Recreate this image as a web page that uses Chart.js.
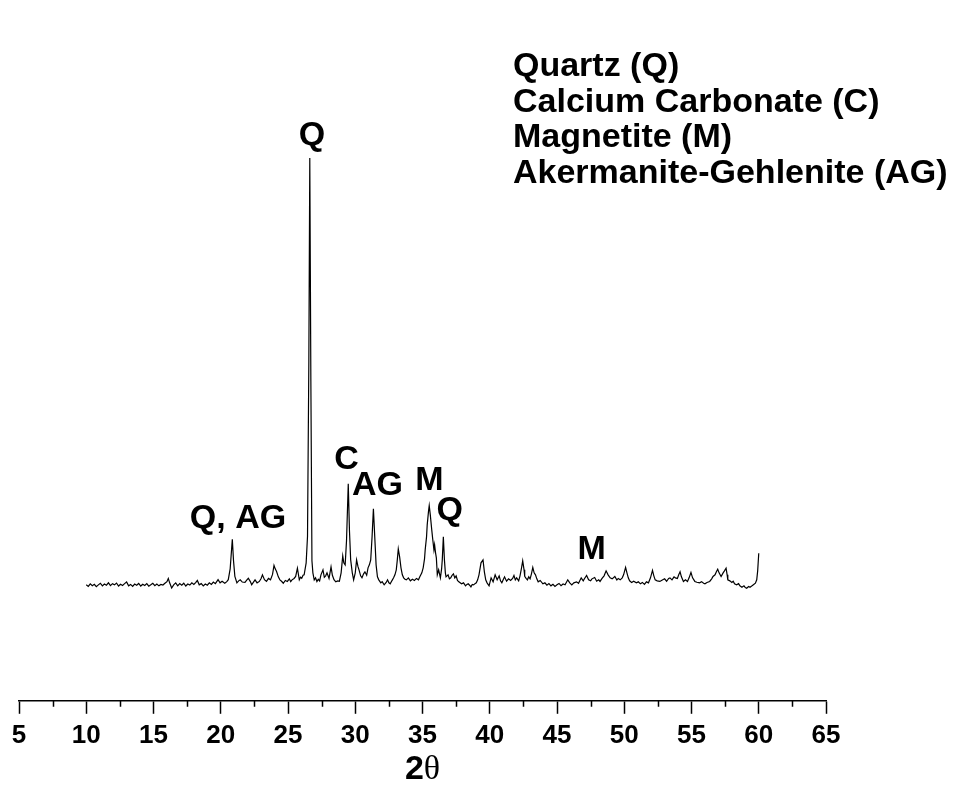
<!DOCTYPE html>
<html>
<head>
<meta charset="utf-8">
<script src="https://cdn.jsdelivr.net/npm/chart.js@4.4.0/dist/chart.umd.min.js"></script>
<style>
  html, body { margin: 0; padding: 0; background: #fff; }
  #wrap { width: 957px; height: 806px; }
</style>
</head>
<body>
<div id="wrap"><canvas id="xrd"></canvas></div>
<script>
'use strict';

// Scan: 2-theta (deg) and intensity (counts)
const twoTheta = [
  10.0, 10.15, 10.3, 10.45, 10.6, 10.75, 10.9, 11.05, 11.2, 11.35, 11.5, 11.65, 11.8, 11.95,
  12.1, 12.25, 12.4, 12.55, 12.7, 12.85, 13.0, 13.15, 13.3, 13.45, 13.6, 13.75, 13.9, 14.05,
  14.2, 14.35, 14.5, 14.65, 14.8, 14.95, 15.1, 15.25, 15.4, 15.55, 15.7, 15.85, 16.0, 16.1,
  16.2, 16.35, 16.5, 16.65, 16.8, 16.95, 17.1, 17.25, 17.4, 17.55, 17.7, 17.85, 18.0, 18.15,
  18.26, 18.4, 18.55, 18.7, 18.85, 19.0, 19.15, 19.3, 19.45, 19.6, 19.8, 19.95, 20.1, 20.3,
  20.45, 20.56, 20.7, 20.86, 20.95, 21.05, 21.2, 21.33, 21.45, 21.6, 21.8, 21.93, 22.05, 22.2,
  22.3, 22.42, 22.55, 22.7, 22.87, 23.0, 23.1, 23.25, 23.4, 23.55, 23.7, 23.85, 23.96, 24.05,
  24.15, 24.28, 24.4, 24.52, 24.65, 24.8, 24.95, 25.1, 25.2, 25.3, 25.45, 25.57, 25.7, 25.84,
  25.93, 26.02, 26.12, 26.2, 26.35, 26.45, 26.55, 26.62, 26.7, 26.78, 26.85, 26.95, 27.05, 27.15,
  27.25, 27.35, 27.45, 27.6, 27.7, 27.8, 27.9, 28.05, 28.2, 28.3, 28.42, 28.55, 28.7, 28.82,
  28.95, 29.07, 29.15, 29.25, 29.35, 29.48, 29.57, 29.66, 29.78, 29.88, 30.0, 30.1, 30.2, 30.28,
  30.4, 30.5, 30.62, 30.72, 30.85, 30.95, 31.05, 31.15, 31.25, 31.35, 31.45, 31.55, 31.65, 31.75,
  31.9, 32.0, 32.15, 32.3, 32.4, 32.5, 32.6, 32.72, 32.85, 32.95, 33.05, 33.12, 33.2, 33.3,
  33.4, 33.5, 33.6, 33.7, 33.8, 33.95, 34.1, 34.25, 34.4, 34.55, 34.7, 34.8, 34.95, 35.05,
  35.15, 35.2, 35.3, 35.35, 35.45, 35.5, 35.58, 35.68, 35.75, 35.85, 35.9, 35.97, 36.03, 36.1,
  36.2, 36.33, 36.42, 36.47, 36.55, 36.63, 36.7, 36.75, 36.9, 37.0, 37.1, 37.2, 37.3, 37.4,
  37.5, 37.6, 37.7, 37.8, 37.9, 38.05, 38.2, 38.3, 38.4, 38.5, 38.6, 38.7, 38.8, 38.9,
  39.0, 39.1, 39.2, 39.35, 39.5, 39.6, 39.7, 39.8, 39.95, 40.1, 40.25, 40.4, 40.55, 40.7,
  40.8, 40.9, 41.0, 41.1, 41.25, 41.4, 41.55, 41.7, 41.8, 41.9, 42.0, 42.15, 42.25, 42.35,
  42.45, 42.55, 42.6, 42.7, 42.8, 42.9, 43.0, 43.1, 43.2, 43.3, 43.4, 43.5, 43.6, 43.75,
  43.95, 44.1, 44.25, 44.4, 44.55, 44.7, 44.85, 45.0, 45.15, 45.3, 45.45, 45.6, 45.8, 45.95,
  46.1, 46.25, 46.45, 46.6, 46.8, 46.95, 47.05, 47.2, 47.35, 47.5, 47.6, 47.8, 47.95, 48.1,
  48.2, 48.35, 48.5, 48.65, 48.8, 48.95, 49.1, 49.3, 49.45, 49.55, 49.7, 49.85, 49.95, 50.1,
  50.2, 50.3, 50.4, 50.55, 50.7, 50.9, 51.05, 51.2, 51.35, 51.5, 51.65, 51.8, 51.95, 52.1,
  52.2, 52.3, 52.45, 52.65, 52.8, 53.0, 53.15, 53.3, 53.4, 53.55, 53.7, 53.8, 53.95, 54.05,
  54.15, 54.25, 54.4, 54.55, 54.7, 54.82, 54.96, 55.08, 55.25, 55.4, 55.6, 55.75, 55.9, 56.0,
  56.15, 56.35, 56.5, 56.6, 56.75, 56.85, 56.95, 57.05, 57.2, 57.35, 57.45, 57.57, 57.65, 57.7,
  57.85, 58.0, 58.1, 58.2, 58.35, 58.5, 58.6, 58.75, 58.9, 59.0, 59.1, 59.25, 59.35, 59.5,
  59.6, 59.75, 59.85, 59.92, 60.0
];
const intensity = [
  580, 572, 585, 576, 583, 571, 580, 588, 575, 584, 578, 590, 576, 586,
  580, 589, 574, 583, 577, 586, 594, 575, 582, 572, 584, 578, 587, 574,
  583, 577, 586, 573, 580, 588, 576, 584, 575, 582, 579, 588, 596, 612,
  590, 564, 580, 590, 575, 586, 578, 588, 574, 584, 579, 590, 582, 592,
  602, 580, 586, 575, 584, 578, 590, 582, 594, 586, 606, 590, 598, 588,
  596, 606, 660, 808, 700, 622, 590, 600, 605, 594, 592, 604, 613, 596,
  580, 592, 605, 590, 597, 612, 630, 606, 597, 612, 605, 632, 677, 660,
  647, 620, 605, 598, 588, 602, 597, 610, 596, 605, 612, 622, 663, 605,
  618, 613, 628, 630, 690, 822, 1700, 2715, 1600, 700, 640, 605, 615, 596,
  608, 600, 630, 655, 618, 625, 640, 612, 670, 628, 606, 595, 600, 598,
  640, 725, 690, 680, 800, 1085, 850, 705, 640, 605, 640, 705, 672, 655,
  625, 615, 635, 645, 628, 665, 680, 705, 820, 960, 820, 680, 620, 605,
  590, 596, 580, 592, 605, 590, 585, 600, 615, 630, 655, 700, 760, 720,
  665, 630, 615, 608, 605, 615, 600, 608, 602, 612, 605, 620, 640, 665,
  710, 755, 820, 880, 950, 976, 930, 860, 815, 755, 780, 740, 715, 630,
  655, 615, 660, 705, 820, 705, 640, 620, 630, 610, 615, 628, 635, 615,
  625, 602, 595, 590, 585, 590, 575, 582, 585, 578, 570, 582, 580, 586,
  590, 605, 630, 690, 705, 645, 605, 590, 575, 615, 595, 630, 605, 625,
  600, 590, 605, 620, 598, 610, 602, 612, 627, 605, 615, 600, 625, 660,
  700, 655, 622, 612, 605, 620, 610, 635, 667, 640, 630, 610, 595, 602,
  585, 590, 578, 586, 575, 583, 572, 580, 587, 576, 584, 580, 605, 590,
  580, 590, 595, 588, 615, 600, 612, 627, 605, 600, 610, 617, 598, 605,
  597, 612, 625, 650, 630, 615, 610, 622, 604, 612, 605, 615, 630, 667,
  640, 615, 600, 592, 598, 590, 595, 585, 592, 582, 595, 590, 615, 652,
  625, 605, 600, 597, 603, 610, 598, 612, 615, 605, 620, 615, 612, 630,
  645, 620, 597, 605, 597, 615, 642, 615, 597, 593, 590, 596, 588, 585,
  592, 597, 610, 622, 630, 645, 658, 640, 622, 640, 650, 663, 630, 605,
  600, 592, 598, 585, 580, 586, 575, 568, 575, 566, 563, 572, 568, 575,
  580, 588, 605, 650, 738
];

// Peak assignments: label, 2-theta and height where each label sits
const peakText = ['Q', 'Q, AG', 'C', 'AG', 'M', 'Q', 'M'];
const peakAt = [26.78, 21.28, 29.35, 31.65, 35.52, 37.02, 47.57];
const peakLevel = [2825, 910, 1205, 1075, 1100, 950, 757];

// Phase key
const phases = ['Quartz (Q)', 'Calcium Carbonate (C)', 'Magnetite (M)', 'Akermanite-Gehlenite (AG)'];

const SANS = '"Liberation Sans", Arial, Helvetica, sans-serif';
const SERIF = '"Liberation Serif", "Times New Roman", serif';

const labelsPlugin = {
  id: 'xrdLabels',
  afterDraw(chart) {
    const ctx = chart.ctx;
    const xs = chart.scales.x;
    const ys = chart.scales.y;
    ctx.save();

    // minor ticks halfway between the numbered ones
    ctx.strokeStyle = '#000';
    ctx.lineWidth = 1.5;
    ctx.beginPath();
    for (let v = xs.min + 2.5; v < xs.max; v += 5) {
      const px = Math.round(xs.getPixelForValue(v)) + 0.5;
      ctx.moveTo(px, xs.top);
      ctx.lineTo(px, xs.top + 6);
    }
    ctx.stroke();

    ctx.fillStyle = '#000';
    ctx.font = 'bold 34px ' + SANS;
    ctx.textBaseline = 'middle';
    ctx.textAlign = 'center';
    peakText.forEach((t, i) => {
      ctx.fillText(t, xs.getPixelForValue(peakAt[i]), ys.getPixelForValue(peakLevel[i]));
    });

    ctx.textAlign = 'left';
    phases.forEach((t, i) => {
      ctx.fillText(t, 513, 67 + i * 35.5);
    });

    // axis title: bold "2" and a serif theta
    const cx = xs.getPixelForValue(35);
    const ty = xs.bottom + 13;
    ctx.font = 'bold 34px ' + SANS;
    const w2 = ctx.measureText('2').width;
    ctx.font = '34px ' + SERIF;
    const wt = ctx.measureText('θ').width;
    const left = cx - (w2 + wt) / 2;
    ctx.font = 'bold 34px ' + SANS;
    ctx.fillText('2', left, ty);
    ctx.font = '34px ' + SERIF;
    ctx.fillText('θ', left + w2, ty);

    ctx.restore();
  }
};

const chart = new Chart(document.getElementById('xrd'), {
  type: 'line',
  data: {
    datasets: [
      {
        data: twoTheta.map((t, i) => ({ x: t, y: intensity[i] })),
        borderColor: '#000',
        borderWidth: 1.2,
        pointRadius: 0,
        tension: 0,
        fill: false,
      },
    ],
  },
  options: {
    responsive: true,
    maintainAspectRatio: false,
    animation: false,
    events: [],
    layout: {
      padding: { top: 101, left: 19, right: 131, bottom: 49 },
    },
    plugins: {
      legend: { display: false },
      tooltip: { enabled: false },
    },
    scales: {
      x: {
        type: 'linear',
        min: 5,
        max: 65,
        border: { display: true, color: '#000', width: 1.5 },
        grid: {
          display: true,
          drawOnChartArea: false,
          drawTicks: true,
          tickLength: 13,
          tickWidth: 1.5,
          tickColor: '#000',
        },
        ticks: {
          stepSize: 5,
          padding: 6,
          color: '#000',
          maxRotation: 0,
          font: { family: SANS, size: 26, weight: 'bold' },
        },
      },
      y: {
        display: false,
        min: 0,
        max: 3000,
      },
    },
  },
  plugins: [labelsPlugin],
});
</script>
</body>
</html>
